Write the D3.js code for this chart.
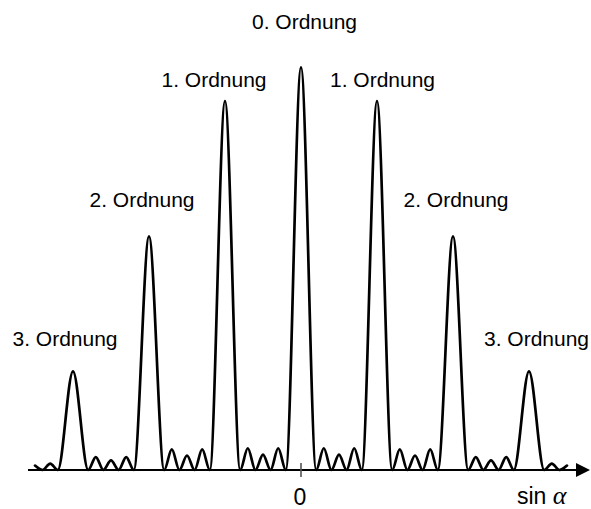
<!DOCTYPE html>
<html>
<head>
<meta charset="utf-8">
<script src="https://cdn.jsdelivr.net/npm/d3@7/dist/d3.min.js"></script>
<style>
  html, body { margin: 0; padding: 0; background: #fff; }
  svg { display: block; }
</style>
</head>
<body>
<svg id="chart" width="591" height="509"></svg>
<script>
// ---- data (x in units of diffraction order, intensity relative to 0th order) ----
const orders = [-3, -2, -1, 0, 1, 2, 3];
const orderLabels = ["3. Ordnung", "2. Ordnung", "1. Ordnung", "0. Ordnung", "1. Ordnung", "2. Ordnung", "3. Ordnung"];
const principalI = [0.245, 0.58, 0.916, 1.0, 0.916, 0.58, 0.245];

const sideX = [-3.5, -3.3, -2.7, -2.5, -2.3, -1.7, -1.5, -1.3, -0.7, -0.5, -0.3,
               0.3, 0.5, 0.7, 1.3, 1.5, 1.7, 2.3, 2.5, 2.7, 3.3, 3.5];
const sideI = [0.011, 0.016, 0.032, 0.024, 0.032, 0.051, 0.036, 0.051, 0.054, 0.038, 0.054,
               0.054, 0.038, 0.054, 0.051, 0.036, 0.051, 0.032, 0.024, 0.032, 0.016, 0.011];

const zeroX = [-3.4, -3.2, -2.8, -2.6, -2.4, -2.2, -1.8, -1.6, -1.4, -1.2, -0.8, -0.6, -0.4, -0.2,
               0.2, 0.4, 0.6, 0.8, 1.2, 1.4, 1.6, 1.8, 2.2, 2.4, 2.6, 2.8, 3.2, 3.4];

const xTicks = [0];
const xTickLabels = ["0"];
const axisTitle = "sin ";
const axisSymbol = "α";

// ---- layout ----
const svg = d3.select("#chart");
const x = d3.scaleLinear().domain([-3, 3]).range([73, 529]);
const y = d3.scaleLinear().domain([0, 1]).range([470, 67.3]);

const labelLayout = [
  {dx: -8, y: 346}, {dx: -7, y: 207.3}, {dx: -11, y: 86.7}, {dx: 3.5, y: 29.3},
  {dx: 5.5, y: 86.7}, {dx: 3, y: 207.3}, {dx: 7.5, y: 346}
];

// build points
const pts = [];
orders.forEach((o, i) => pts.push([o, principalI[i]]));
sideX.forEach((s, i) => pts.push([s, sideI[i]]));
zeroX.forEach(z => pts.push([z, 0]));
pts.sort((a, b) => a[0] - b[0]);

// axis line
const axisY = y(0);
svg.append("line")
  .attr("x1", 28).attr("x2", 580)
  .attr("y1", axisY).attr("y2", axisY)
  .attr("stroke", "#000").attr("stroke-width", 2);
svg.append("path")
  .attr("d", `M590,${axisY} L576,${axisY - 7} L576,${axisY + 7} Z`)
  .attr("fill", "#000");

// tick
xTicks.forEach((t, i) => {
  svg.append("line")
    .attr("x1", x(t)).attr("x2", x(t))
    .attr("y1", axisY - 7).attr("y2", axisY + 7)
    .attr("stroke", "#555").attr("stroke-width", 1.6);
  svg.append("text")
    .attr("x", x(t) - 1).attr("y", 505)
    .attr("text-anchor", "middle")
    .attr("font-family", "Liberation Sans, Arial, sans-serif")
    .attr("font-size", 23)
    .attr("fill", "#000")
    .text(xTickLabels[i]);
});

// axis title
const title = svg.append("text")
  .attr("x", 517).attr("y", 504)
  .attr("font-family", "Liberation Sans, Arial, sans-serif")
  .attr("font-size", 23)
  .attr("fill", "#000");
title.append("tspan").text(axisTitle);
title.append("tspan")
  .attr("font-family", "Liberation Serif, 'Times New Roman', serif")
  .attr("font-style", "italic")
  .attr("font-size", 26)
  .text(axisSymbol);

// curve
const line = d3.line()
  .x(d => x(d[0]))
  .y(d => y(d[1]))
  .curve(d3.curveMonotoneX);
svg.append("path")
  .datum(pts)
  .attr("d", line)
  .attr("fill", "none")
  .attr("stroke", "#000")
  .attr("stroke-width", 2.7)
  .attr("stroke-linejoin", "round")
  .attr("stroke-linecap", "round");

// labels
orders.forEach((o, i) => {
  svg.append("text")
    .attr("x", x(o) + labelLayout[i].dx)
    .attr("y", labelLayout[i].y)
    .attr("text-anchor", "middle")
    .attr("font-family", "Liberation Sans, Arial, sans-serif")
    .attr("font-size", 21)
    .attr("fill", "#000")
    .text(orderLabels[i]);
});
</script>
</body>
</html>
